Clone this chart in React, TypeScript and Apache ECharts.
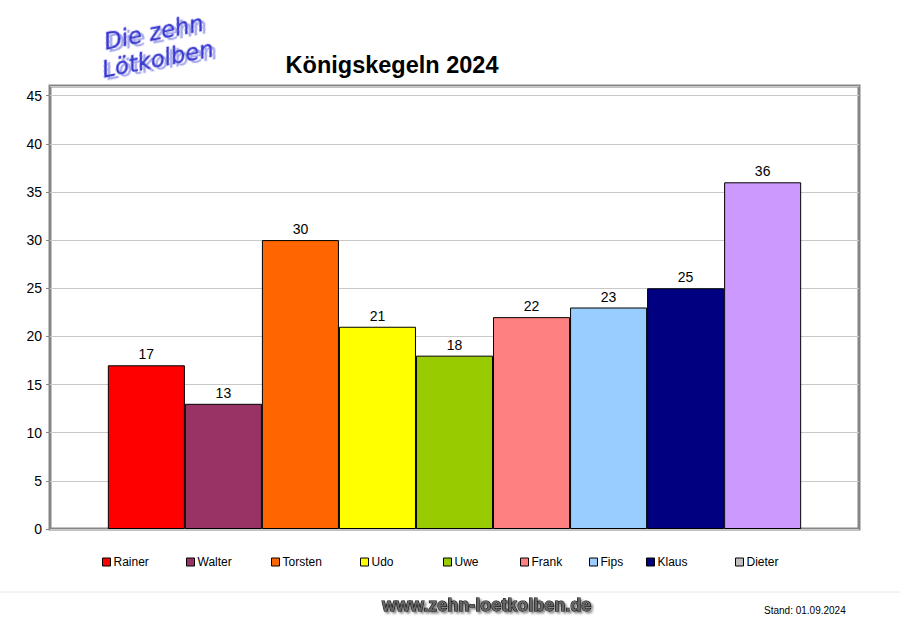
import React, { useEffect, useRef } from "react";
import * as echarts from "echarts";

const players = ["Rainer", "Walter", "Torsten", "Udo", "Uwe", "Frank", "Fips", "Klaus", "Dieter"];
const scores = [17, 13, 30, 21, 18, 22, 23, 25, 36];
const barColors = ["#FF0000", "#993366", "#FF6600", "#FFFF00", "#99CC00", "#FF8080", "#99CCFF", "#000080", "#CC99FF"];
const legendColors = ["#FF0000", "#993366", "#FF6600", "#FFFF00", "#99CC00", "#FF8080", "#99CCFF", "#000080", "#C0C0C0"];
const legendLefts = [102, 186, 271, 360, 443, 520, 589, 646, 735];

export default function App() {
  const ref = useRef<HTMLDivElement>(null);
  useEffect(() => {
    const chart = echarts.init(ref.current!, null, { renderer: "svg" });
    const font = "'Liberation Sans', Arial, sans-serif";
    const logoStyle = {
      fontFamily: "'DejaVu Sans', sans-serif",
      fontStyle: "italic",
      fontSize: 23,
      fill: "#3535d0",
      stroke: "#3535d0",
      lineWidth: 0.4,
      textShadowColor: "#a8a8ec",
      textShadowOffsetX: 3,
      textShadowOffsetY: 3,
      textShadowBlur: 1,
    };
    chart.setOption({
      animation: false,
      backgroundColor: "#ffffff",
      title: {
        text: "Königskegeln 2024",
        left: 387,
        textAlign: "center",
        top: 48,
        textStyle: { fontFamily: font, fontSize: 23.5, fontWeight: "bold", color: "#000" },
      },
      grid: {
        left: 50,
        right: 41,
        top: 86,
        bottom: 109,
        show: true,
        borderColor: "#858585",
        borderWidth: 3,
        backgroundColor: "#ffffff",
      },
      xAxis: {
        type: "category",
        data: [""],
        axisLine: { show: false },
        axisTick: { show: false },
        axisLabel: { show: false },
      },
      yAxis: {
        type: "value",
        min: 0,
        max: 46,
        interval: 5,
        axisLine: { show: false },
        axisTick: { show: true, length: 4, lineStyle: { color: "#858585" } },
        splitLine: { lineStyle: { color: "#c8c8c8", width: 1 } },
        axisLabel: {
          showMaxLabel: false,
          fontFamily: font,
          fontSize: 14,
          color: "#000",
          margin: 8,
        },
      },
      legend: players.map((p, i) => ({
        data: [{ name: p, itemStyle: { color: legendColors[i], borderColor: "#000", borderWidth: 1 } }],
        left: legendLefts[i],
        top: 556,
        icon: "rect",
        itemWidth: 8,
        itemHeight: 8,
        itemGap: 0,
        padding: 0,
        textStyle: { fontFamily: font, fontSize: 12, color: "#000", padding: [0, 0, 0, -2] },
      })),
      series: players.map((p, i) => ({
        name: p,
        type: "bar",
        data: [scores[i]],
        barGap: "0%",
        barCategoryGap: "14.3%",
        itemStyle: { color: barColors[i], borderColor: "#000", borderWidth: 1 },
        label: {
          show: true,
          position: "top",
          distance: 4,
          fontFamily: font,
          fontSize: 14,
          color: "#000",
        },
      })),
      graphic: [
        {
          type: "text",
          x: 102,
          y: 30,
          rotation: (11 * Math.PI) / 180,
          style: { ...logoStyle, text: "Die zehn" },
        },
        {
          type: "text",
          x: 100,
          y: 58,
          rotation: (11 * Math.PI) / 180,
          style: { ...logoStyle, text: "Lötkolben" },
        },
        {
          type: "line",
          shape: { x1: 0, y1: 592, x2: 900, y2: 592 },
          style: { stroke: "#e6e6e6", lineWidth: 1 },
        },
        {
          type: "text",
          x: 382,
          y: 596,
          style: {
            text: "www.zehn-loetkolben.de",
            fontFamily: "'Liberation Sans Narrow', 'Liberation Sans', sans-serif",
            fontWeight: "bold",
            fontSize: 18,
            fill: "#666",
            stroke: "#000",
            lineWidth: 1,
            textShadowColor: "rgba(0,0,0,0.5)",
            textShadowOffsetX: 2,
            textShadowOffsetY: 2,
            textShadowBlur: 2,
          },
        },
        {
          type: "text",
          x: 764,
          y: 605,
          style: {
            text: "Stand: 01.09.2024",
            fontFamily: font,
            fontSize: 10,
            fill: "#000",
          },
        },
      ],
    });
    return () => chart.dispose();
  }, []);
  return <div ref={ref} style={{ width: 900, height: 638, position: "absolute", left: 0, top: 0 }} />;
}
